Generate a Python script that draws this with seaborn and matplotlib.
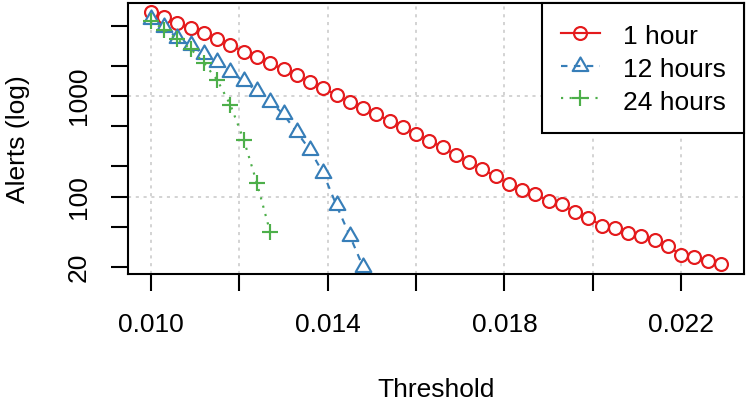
import numpy as np
import pandas as pd
import seaborn as sns
import matplotlib.pyplot as plt
from matplotlib.path import Path

# thresholds tested (x axis)
thresholds = [0.0100, 0.0103, 0.0106, 0.0109, 0.0112, 0.0115, 0.0118, 0.0121,
              0.0124, 0.0127, 0.0130, 0.0133, 0.0136, 0.0139, 0.0142, 0.0145,
              0.0148, 0.0151, 0.0154, 0.0157, 0.0160, 0.0163, 0.0166, 0.0169,
              0.0172, 0.0175, 0.0178, 0.0181, 0.0184, 0.0187, 0.0190, 0.0193,
              0.0196, 0.0199, 0.0202, 0.0205, 0.0208, 0.0211, 0.0214, 0.0217,
              0.0220, 0.0223, 0.0226, 0.0229]

# number of alerts per window
alerts_1h = [6780, 6130, 5345, 4700, 4195, 3655, 3210, 2754, 2424, 2113, 1841,
             1616, 1387, 1193, 1023, 878, 764, 663, 568, 489, 420, 360, 310,
             259, 223, 187, 160, 134, 117, 106, 91, 84, 70, 62, 51.5, 49, 44,
             41, 37, 32.4, 26.4, 25, 23, 21.3]
alerts_12h = [5870, 4822, 3793, 3181, 2612, 2166, 1743, 1403, 1131, 880, 658,
              439, 291, 171, 82, 41, 20.2]
alerts_24h = [5620, 4563, 3656, 2943, 2126, 1442, 814, 368, 136, 44.3]

labels = ["1 hour", "12 hours", "24 hours"]
colors = sns.color_palette("Set1", 3)

xticks = [0.010, 0.012, 0.014, 0.016, 0.018, 0.020, 0.022]
xtick_labels = ["0.010", "", "0.014", "", "0.018", "", "0.022"]
yticks = [20, 50, 100, 200, 500, 1000, 2000, 5000]
ytick_labels = ["20", "", "100", "", "", "1000", "", ""]
ygrid = [100, 1000]

plt.rcParams['font.family'] = ['Liberation Sans', 'DejaVu Sans']
plt.rcParams['font.size'] = 19

fig = plt.figure(figsize=(7.47, 4.01), dpi=100)
ax = fig.add_axes([0.1713, 0.3167, 0.8246, 0.6758])

# triangle centred on its centroid like R's pch=2
tri = Path([(0, 1), (-0.866, -0.5), (0.866, -0.5), (0, 1)], closed=True)

series = [
    (thresholds, alerts_1h, "o", 9.3, "-"),
    (thresholds[:len(alerts_12h)], alerts_12h, tri, 13, (0, (3, 3))),
    (thresholds[:len(alerts_24h)], alerts_24h, "+", 11.5, (0, (1, 3))),
]

lw = 1.55
for (xs, ys, mk, ms, ls), lab, col in zip(series, labels, colors):
    sns.lineplot(x=xs, y=ys, ax=ax, color=col, linestyle=ls, linewidth=lw,
                 marker=mk, markersize=ms, markerfacecolor="white",
                 markeredgecolor=col, markeredgewidth=lw, label=lab)

ax.set_yscale("log")
ax.set_xlim(0.00948, 0.02342)
ax.set_ylim(17.1, 8400)
ax.set_xticks(xticks, xtick_labels)
ax.set_yticks(yticks, ytick_labels, rotation=90, va="center")
ax.minorticks_off()

ax.tick_params(length=12.2, width=1.5, labelsize=19, color="black")
ax.tick_params(axis="x", pad=16)
ax.tick_params(axis="y", pad=14.7)

grid_kw = dict(color="#D3D3D3", linestyle=(0, (1.6, 2.4)), linewidth=1.4)
ax.grid(axis="x", **grid_kw)
for v in ygrid:
    ax.axhline(v, zorder=0.5, **grid_kw)
ax.set_axisbelow(True)

for sp in ax.spines.values():
    sp.set_linewidth(1.5)
    sp.set_color("black")

ax.set_xlabel("Threshold", fontsize=19)
ax.set_ylabel("Alerts (log)", fontsize=19)
ax.xaxis.set_label_coords(0.5, -0.385)
ax.yaxis.set_label_coords(-0.159, 0.498)

leg = ax.legend(loc="upper right", bbox_to_anchor=(1, 1), borderaxespad=0,
                fancybox=False, framealpha=1, edgecolor="black", fontsize=19,
                handlelength=1.5, handletextpad=0.85, handleheight=1.21,
                labelspacing=0.2, borderpad=0.7)
leg.get_frame().set_linewidth(1.5)
for h in leg.legend_handles:
    h.set_markerfacecolor("none")

fig.savefig("out.png", dpi=100)
